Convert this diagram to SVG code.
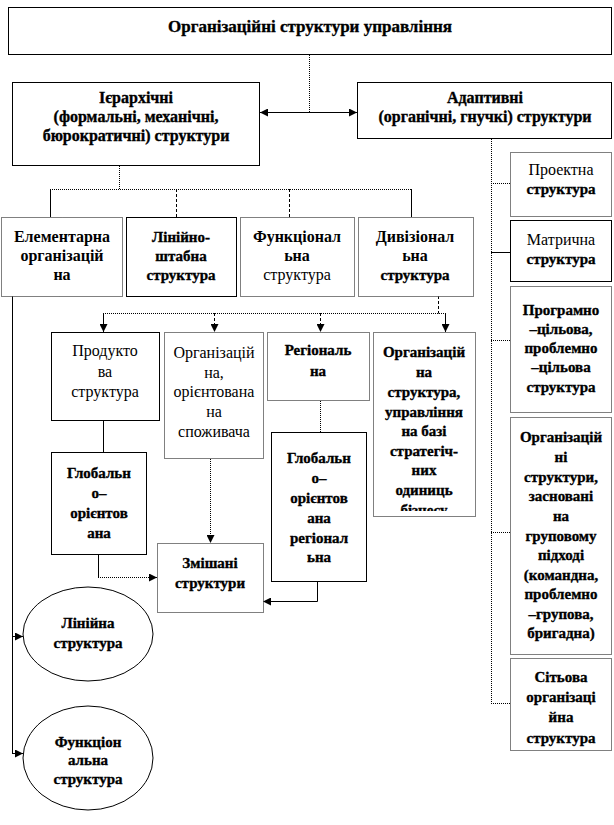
<svg xmlns="http://www.w3.org/2000/svg" width="614" height="825" viewBox="0 0 614 825">
<style>
text{font-family:"Liberation Serif","Times New Roman",serif;font-size:16px;fill:#000;text-anchor:middle}
.k{font-weight:bold;font-size:15px;stroke:#000;stroke-width:0.35}
.k16{font-size:16px}
.t{font-size:17px}
.bd{font-weight:bold}
.b{fill:#fff;stroke:#000;stroke-width:1}
.d{fill:#fff;stroke:#000;stroke-width:1;stroke-dasharray:1 1}
.c{fill:none;stroke:#000;stroke-width:1}
.cd{fill:none;stroke:#000;stroke-width:1;stroke-dasharray:1 1}
.cs{fill:none;stroke:#000;stroke-width:1;stroke-dasharray:3 2}
</style>
<defs>
<marker id="ah" viewBox="0 0 8 8" refX="8" refY="4" markerWidth="8" markerHeight="8" markerUnits="userSpaceOnUse" orient="auto-start-reverse">
<path d="M0,0 L8,4 L0,8 z" fill="#000"/>
</marker>
<clipPath id="clipSBU"><rect x="373" y="332" width="102" height="179"/></clipPath>
</defs>
<rect width="614" height="825" fill="#fff"/>

<g id="connectors">
<line class="cd" x1="309.5" y1="55" x2="309.5" y2="112.5"/>
<line class="c" x1="260" y1="112.5" x2="357" y2="112.5" marker-start="url(#ah)" marker-end="url(#ah)"/>
<line class="cd" x1="119.5" y1="166" x2="119.5" y2="189.5"/>
<line class="cd" x1="50" y1="189.5" x2="411" y2="189.5"/>
<line class="c" x1="50.5" y1="189" x2="50.5" y2="217"/>
<line class="cs" x1="176.5" y1="189" x2="176.5" y2="217"/>
<line class="cs" x1="289.5" y1="189" x2="289.5" y2="217"/>
<line class="c" x1="411.5" y1="189" x2="411.5" y2="217"/>
<line class="cd" x1="491.5" y1="139" x2="491.5" y2="703.5"/>
<line class="cd" x1="491" y1="183.5" x2="510" y2="183.5"/>
<line class="c" x1="491" y1="252.5" x2="510" y2="252.5"/>
<line class="cd" x1="491" y1="340.5" x2="510" y2="340.5"/>
<line class="cd" x1="491" y1="532.5" x2="510" y2="532.5"/>
<line class="cd" x1="491" y1="703.5" x2="510" y2="703.5"/>
<path class="c" d="M12.5,296 V753.5"/>
<line class="c" x1="12" y1="636.5" x2="23" y2="636.5" marker-end="url(#ah)"/>
<line class="c" x1="12" y1="753.5" x2="23" y2="753.5" marker-end="url(#ah)"/>
<line class="cs" x1="438.5" y1="296" x2="438.5" y2="313.5"/>
<line class="cd" x1="103" y1="313.5" x2="445" y2="313.5"/>
<line class="c" x1="103.5" y1="313" x2="103.5" y2="332" marker-end="url(#ah)"/>
<line class="cs" x1="214.5" y1="313" x2="214.5" y2="332" marker-end="url(#ah)"/>
<line class="cs" x1="320.5" y1="313" x2="320.5" y2="332" marker-end="url(#ah)"/>
<line class="c" x1="445.5" y1="313" x2="445.5" y2="332" marker-end="url(#ah)"/>
<line class="c" x1="103.5" y1="420" x2="103.5" y2="452"/>
<line class="cd" x1="320.5" y1="401" x2="320.5" y2="432"/>
<line class="cd" x1="210.5" y1="459" x2="210.5" y2="543" marker-end="url(#ah)"/>
<path class="c" d="M98.5,555 V577.5"/>
<line class="cd" x1="98" y1="577.5" x2="157" y2="577.5" marker-end="url(#ah)"/>
<path class="c" d="M317.5,582 V601.5 H263" marker-end="url(#ah)"/>
</g>

<g id="n-root">
<rect class="b" x="8.5" y="7.5" width="603" height="47"/>
<text class="k t" x="310" y="32">Організаційні структури  управління</text>
</g>

<g id="n-hier">
<rect class="b" x="12.5" y="82.5" width="247" height="83"/>
<text class="k k16" x="136" y="103">Ієрархічні</text>
<text class="k k16" x="136" y="122">(формальні,  механічні,</text>
<text class="k k16" x="136" y="141">бюрократичні)  структури</text>
</g>

<g id="n-adapt">
<rect class="b" x="357.5" y="82.5" width="254" height="56"/>
<text class="k k16" x="485" y="103">Адаптивні</text>
<text class="k k16" x="485" y="122">(органічні,  гнучкі) структури</text>
</g>

<g id="n-elem">
<rect class="d" x="1.5" y="217.5" width="121" height="79"/>
<text class="bd" x="62" y="242">Елементарна</text>
<text class="bd" x="62" y="261">організацій</text>
<text class="bd" x="62" y="280">на</text>
</g>

<g id="n-linshtab">
<rect class="b" x="126.5" y="217.5" width="110" height="79"/>
<text class="k" x="181" y="242">Лінійно-</text>
<text class="k" x="181" y="261">штабна</text>
<text class="k" x="181" y="280">структура</text>
</g>

<g id="n-func">
<rect class="d" x="240.5" y="217.5" width="114" height="79"/>
<text class="bd" x="297" y="242">Функціонал</text>
<text class="bd" x="297" y="261">ьна</text>
<text x="297" y="280">структура</text>
</g>

<g id="n-div">
<rect class="d" x="358.5" y="217.5" width="115" height="79"/>
<text class="bd" x="415" y="242">Дивізіонал</text>
<text class="bd" x="415" y="261">ьна</text>
<text class="k" x="415" y="280">структура</text>
</g>

<g id="n-product">
<rect class="b" x="51.5" y="332.5" width="108" height="88"/>
<text x="105" y="356">Продукто</text>
<text x="105" y="377">ва</text>
<text x="105" y="397">структура</text>
</g>

<g id="n-consumer">
<rect class="d" x="164.5" y="332.5" width="99" height="126"/>
<text x="214" y="358">Організацій</text>
<text x="214" y="378">на,</text>
<text x="214" y="397">орієнтована</text>
<text x="214" y="417">на</text>
<text x="214" y="437">споживача</text>
</g>

<g id="n-region">
<rect class="d" x="267.5" y="332.5" width="102" height="68"/>
<text class="k" x="318" y="355">Регіональ</text>
<text class="k" x="318" y="376">на</text>
</g>

<g id="n-sbu">
<rect class="d" x="373.5" y="332.5" width="102" height="184"/>
<g clip-path="url(#clipSBU)">
<text class="k" x="424" y="357">Організацій</text>
<text class="k" x="424" y="377">на</text>
<text class="k" x="424" y="397">структура,</text>
<text class="k" x="424" y="417">управління</text>
<text class="k" x="424" y="436">на базі</text>
<text class="k" x="424" y="456">стратегіч-</text>
<text class="k" x="424" y="475">них</text>
<text class="k" x="424" y="495">одиниць</text>
<text class="k" x="424" y="515">бізнесу</text>
</g>
</g>

<g id="n-global">
<rect class="b" x="51.5" y="452.5" width="95" height="102"/>
<text class="k" x="99" y="478">Глобальн</text>
<text class="k" x="99" y="498">о–</text>
<text class="k" x="99" y="518">орієнтов</text>
<text class="k" x="99" y="538">ана</text>
</g>

<g id="n-globreg">
<rect class="b" x="271.5" y="432.5" width="95" height="149"/>
<text class="k" x="319" y="463">Глобальн</text>
<text class="k" x="319" y="483">о–</text>
<text class="k" x="319" y="503">орієнтов</text>
<text class="k" x="319" y="523">ана</text>
<text class="k" x="319" y="543">регіонал</text>
<text class="k" x="319" y="562">ьна</text>
</g>

<g id="n-mixed">
<rect class="d" x="157.5" y="543.5" width="106" height="69"/>
<text class="k" x="210" y="568">Змішані</text>
<text class="k" x="210" y="588">структури</text>
</g>

<g id="n-linear">
<ellipse class="b" cx="88" cy="634" rx="65" ry="47"/>
<text class="k" x="88" y="628">Лінійна</text>
<text class="k" x="88" y="648">структура</text>
</g>

<g id="n-functional">
<ellipse class="b" cx="88" cy="758" rx="65" ry="52"/>
<text class="k" x="88" y="747">Функціон</text>
<text class="k" x="88" y="765">альна</text>
<text class="k" x="88" y="784">структура</text>
</g>

<g id="n-project">
<rect class="d" x="510.5" y="152.5" width="101" height="64"/>
<text x="561" y="175">Проектна</text>
<text class="k" x="561" y="194">структура</text>
</g>

<g id="n-matrix">
<rect class="b" x="510.5" y="220.5" width="101" height="61"/>
<text x="561" y="245">Матрична</text>
<text class="k" x="561" y="264">структура</text>
</g>

<g id="n-program">
<rect class="d" x="510.5" y="286.5" width="101" height="126"/>
<text class="k" x="561" y="315">Програмно</text>
<text class="k" x="561" y="334">–цільова,</text>
<text class="k" x="561" y="353">проблемно</text>
<text class="k" x="561" y="372">–цільова</text>
<text class="k" x="561" y="392">структура</text>
</g>

<g id="n-group">
<rect class="d" x="510.5" y="417.5" width="101" height="237"/>
<text class="k" x="561" y="442">Організацій</text>
<text class="k" x="561" y="462">ні</text>
<text class="k" x="561" y="482">структури,</text>
<text class="k" x="561" y="501">засновані</text>
<text class="k" x="561" y="521">на</text>
<text class="k" x="561" y="541">груповому</text>
<text class="k" x="561" y="560">підході</text>
<text class="k" x="561" y="580">(командна,</text>
<text class="k" x="561" y="599">проблемно</text>
<text class="k" x="561" y="619">–групова,</text>
<text class="k" x="561" y="638">бригадна)</text>
</g>

<g id="n-network">
<rect class="d" x="510.5" y="658.5" width="101" height="92"/>
<text class="k" x="561" y="682">Сітьова</text>
<text class="k" x="561" y="702">організаці</text>
<text class="k" x="561" y="722">йна</text>
<text class="k" x="561" y="743">структура</text>
</g>
</svg>
